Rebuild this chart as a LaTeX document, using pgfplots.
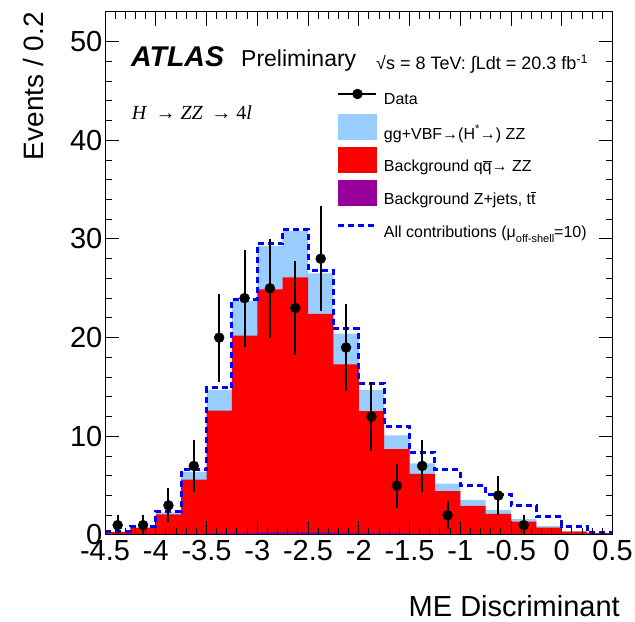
\documentclass[border=0pt]{standalone}
\usepackage{fontspec}
\setmainfont{Liberation Sans}
\newfontfamily\serifface{Liberation Serif}
\usepackage{pgfplots}
\pgfplotsset{compat=1.18}
\definecolor{ltblue}{RGB}{153,204,255}
\definecolor{hred}{RGB}{255,0,0}
\definecolor{hpurple}{RGB}{153,0,153}
\definecolor{hblue}{RGB}{0,0,255}
\newcommand{\fs}[1]{\fontsize{#1bp}{#1bp}\selectfont}
\begin{document}
\begin{tikzpicture}[x=1bp,y=1bp]
\path[use as bounding box] (0,0) rectangle (635,622);
\begin{axis}[
  at={(105bp,87bp)}, anchor=south west,
  width=507.5bp, height=523bp, scale only axis,
  xmin=-4.5, xmax=0.5, ymin=0, ymax=53,
  xtick={-4.5,-4,-3.5,-3,-2.5,-2,-1.5,-1,-0.5,0,0.5},
  ytick={0,10,20,30,40,50},
  minor x tick num=4, minor y tick num=4,
  tick align=inside,
  major tick length=14bp, minor tick length=7bp,
  axis line style={line width=1bp},
  every tick/.style={line width=1bp, black},
  tick label style={font=\fs{29}},
  /pgf/number format/assume math mode=true,
  /pgf/number format/fixed,
  xticklabel style={inner sep=0pt, yshift=-5bp},
  yticklabel style={inner sep=0pt, xshift=-2.5bp},
  axis on top,
  legend cell align=left,
  legend style={at={(rel axis cs:0.4571,0.8748)}, anchor=north west, draw=none, fill=none,
    inner sep=0pt, outer sep=0pt, font=\fs{16}, row sep=0pt, column sep=6bp,
    nodes={inner sep=0pt}},
]
% legend entries
\addlegendimage{legend image code/.code={\path[draw=none,fill=none] (0bp,-10.5bp) rectangle (38bp,22.5bp);
   \draw[black, solid, line width=2bp] (0bp,6bp)--(38bp,6bp); \fill[black] (19bp,6bp) circle (5bp);}}
\addlegendentry{Data}
\addlegendimage{legend image code/.code={\path[draw=none,fill=none] (0bp,-10.5bp) rectangle (38bp,22.5bp);
   \fill[ltblue] (0bp,-6.5bp) rectangle (38bp,18.5bp);}}
\addlegendentry{gg+VBF→(H\textsuperscript{*}→) ZZ}
\addlegendimage{legend image code/.code={\path[draw=none,fill=none] (0bp,-10.5bp) rectangle (38bp,22.5bp);
   \fill[hred] (0bp,-6.5bp) rectangle (38bp,18.5bp);}}
\addlegendentry{Background q$\overline{\mbox{q}}$→ ZZ}
\addlegendimage{legend image code/.code={\path[draw=none,fill=none] (0bp,-10.5bp) rectangle (38bp,22.5bp);
   \fill[hpurple] (0bp,-6.5bp) rectangle (38bp,18.5bp);}}
\addlegendentry{Background Z+jets, t$\overline{\mbox{t}}$}
\addlegendimage{legend image code/.code={\path[draw=none,fill=none] (0bp,-10.5bp) rectangle (38bp,22.5bp);
   \draw[hblue, line width=3bp, dash pattern=on 6bp off 4bp] (0bp,6bp)--(38bp,6bp);}}
\addlegendentry{All contributions (μ\raisebox{-5bp}{\fs{11}off-shell}=10)}

% total (mu=1)
\addplot[const plot, fill=ltblue, draw=none, forget plot] coordinates {
(-4.5,0.35)(-4.25,0.8)(-4,2.3)(-3.75,6.4)(-3.5,14.7)(-3.25,23.7)(-3,29.3)(-2.75,30.8)(-2.5,26.5)(-2.25,20.4)(-2,14.7)(-1.75,10.1)(-1.5,7.25)(-1.25,5.2)(-1,3.55)(-0.75,2.55)(-0.5,1.6)(-0.25,0.9)(0,0.38)(0.25,0.22)(0.5,0.22)} \closedcycle;
% qq -> ZZ (stacked on Z+jets)
\addplot[const plot, fill=hred, draw=none, forget plot] coordinates {
(-4.5,0.3)(-4.25,0.7)(-4,2.1)(-3.75,5.6)(-3.5,12.6)(-3.25,20.2)(-3,24.9)(-2.75,26.1)(-2.5,22.4)(-2.25,17.3)(-2,12.55)(-1.75,8.7)(-1.5,6.2)(-1.25,4.45)(-1,2.95)(-0.75,2.15)(-0.5,1.35)(-0.25,0.75)(0,0.33)(0.25,0.18)(0.5,0.18)} \closedcycle;
% Z+jets, ttbar
\addplot[const plot, fill=hpurple, draw=none, forget plot] coordinates {
(-4.5,0.05)(-4.25,0.08)(-4,0.12)(-3.75,0.15)(-3.5,0.2)(-3.25,0.25)(-3,0.3)(-2.75,0.3)(-2.5,0.3)(-2.25,0.25)(-2,0.2)(-1.75,0.18)(-1.5,0.15)(-1.25,0.12)(-1,0.1)(-0.75,0.08)(-0.5,0.05)(-0.25,0.03)(0,0.02)(0.25,0.01)(0.5,0.01)} \closedcycle;
% all contributions mu=10
\addplot[const plot, hblue, line width=3bp, dash pattern=on 6bp off 4bp, forget plot] coordinates {
(-4.5,0.4)(-4.25,0.9)(-4,2.4)(-3.75,6.6)(-3.5,14.9)(-3.25,23.9)(-3,29.5)(-2.75,31.0)(-2.5,26.8)(-2.25,20.9)(-2,15.4)(-1.75,11.0)(-1.5,8.4)(-1.25,6.6)(-1,5.05)(-0.75,4.15)(-0.5,2.95)(-0.25,1.85)(0,0.9)(0.25,0.23)(0.5,0.23)};
% data
\addplot[only marks, mark=*, mark size=5bp, black, forget plot,
  error bars/.cd, y dir=both, y explicit, error mark=none,
  error bar style={line width=2bp, black}] coordinates {
(-4.375,1) +- (0,1)
(-4.125,1) +- (0,1)
(-3.875,3) +- (0,1.73)
(-3.625,7) +- (0,2.65)
(-3.375,20) +- (0,4.47)
(-3.125,24) +- (0,4.9)
(-2.875,25) +- (0,5)
(-2.625,23) +- (0,4.8)
(-2.375,28) +- (0,5.29)
(-2.125,19) +- (0,4.36)
(-1.875,12) +- (0,3.46)
(-1.625,5) +- (0,2.24)
(-1.375,7) +- (0,2.65)
(-1.125,2) +- (0,1.41)
(-0.625,4) +- (0,2)
(-0.375,1) +- (0,1)
};
\end{axis}
\node[rotate=90, anchor=base east, inner sep=0pt, font=\fs{28}] at (43bp,610bp) {Events / 0.2};
\node[anchor=base east, inner sep=0pt, font=\fs{29}] at (620bp,5bp) {ME Discriminant};
\node[anchor=base west, inner sep=0pt, font=\fs{28.5}\bfseries\itshape] at (131bp,555.3bp) {ATLAS};
\node[anchor=base west, inner sep=0pt, font=\fs{23}] at (241bp,555.3bp) {Preliminary};
\node[anchor=base west, inner sep=0pt, font=\fs{18}] at (376bp,552bp) {√s = 8 TeV: ∫Ldt = 20.3 fb\textsuperscript{-1}};
\node[anchor=base west, inner sep=0pt, font=\serifface\fs{20}] at (131.7bp,502bp) {\textit{H} \,→ \textit{ZZ} \,→ 4\textit{l}};
\end{tikzpicture}
\end{document}
